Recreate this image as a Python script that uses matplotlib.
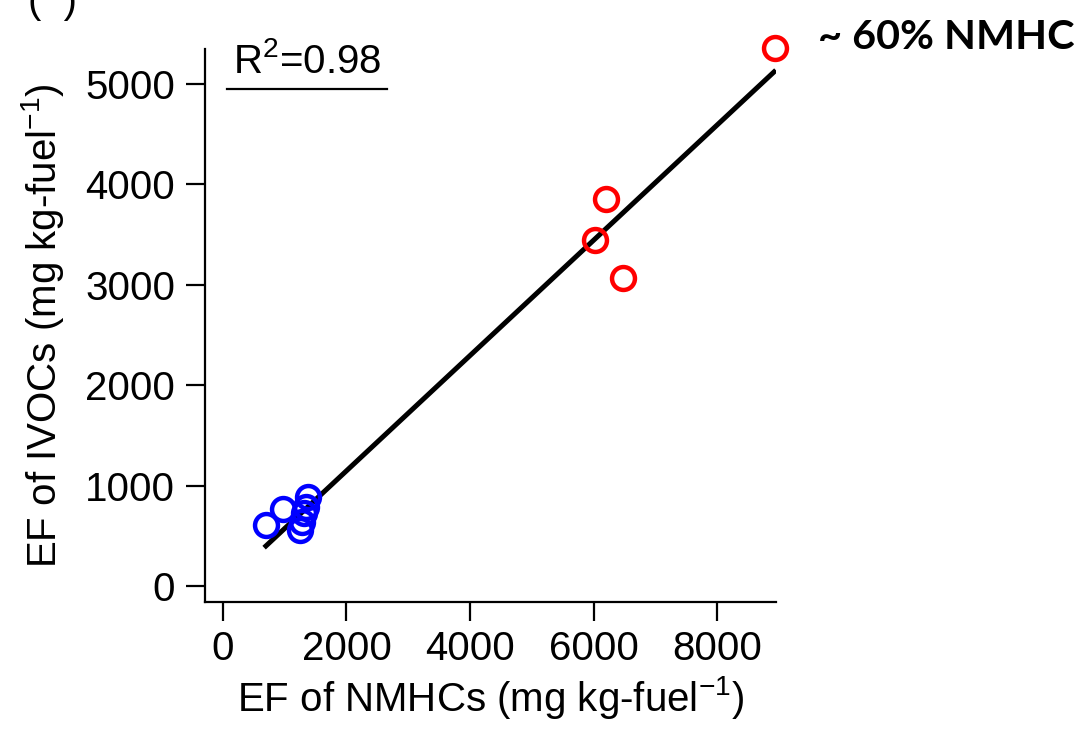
import numpy as np
import matplotlib
matplotlib.use("Agg")
import matplotlib.pyplot as plt
from matplotlib.lines import Line2D

# data (mg kg-fuel^-1)
nmhc_blue = [696, 972, 1247, 1279, 1312, 1377, 1344]
ivoc_blue = [608, 767, 558, 637, 727, 886, 787]
nmhc_red = [8939, 6202, 6024, 6478]
ivoc_red = [5359, 3855, 3446, 3068]

# fitted line (slope ~0.57, i.e. ~60% of NMHC)
fit_slope = 0.574
fit_intercept = -1.5
fit_x = [696, 8923]

xticks = [0, 2000, 4000, 6000, 8000]
yticks = [0, 1000, 2000, 3000, 4000, 5000]

plt.rcParams['font.family'] = ['Liberation Sans', 'DejaVu Sans']

fig = plt.figure(figsize=(10.82, 7.36), dpi=100)
ax = fig.add_axes([0.1895, 0.1821, 0.5277, 0.7514])

fx = np.array(fit_x)
ax.plot(fx, fit_slope * fx + fit_intercept, color='black', lw=3.6, zorder=2)

ax.plot(nmhc_blue, ivoc_blue, 'o', mfc='none', mec=(0, 0, 1), ms=16.5, mew=3.2,
        zorder=3, clip_on=False)
ax.plot(nmhc_red, ivoc_red, 'o', mfc='none', mec=(1, 0, 0), ms=16.5, mew=3.2,
        zorder=3, clip_on=False)

ax.set_xlim(-290, 8955)
ax.set_ylim(-160, 5349)
ax.set_xticks(xticks)
ax.set_yticks(yticks)
ax.spines['top'].set_visible(False)
ax.spines['right'].set_visible(False)
for s in ['left', 'bottom']:
    ax.spines[s].set_linewidth(1.6)
ax.tick_params(direction='out', length=13.5, width=1.6, labelsize=29, pad=7)
ax.tick_params(axis='y', pad=8)

ax.set_xlabel('EF of NMHCs (mg kg-fuel$^{\\mathregular{-1}}$)', fontsize=29, labelpad=4)
ax.set_ylabel('EF of IVOCs (mg kg-fuel$^{\\mathregular{-1}}$)', fontsize=29, labelpad=14)

# R^2 annotation with underline
fig.text(233 / 1082, 1 - 73 / 736, 'R$^{\\mathregular{2}}$=0.98', fontsize=29,
         ha='left', va='baseline')
fig.add_artist(Line2D([227 / 1082, 387 / 1082], [1 - 89 / 736, 1 - 89 / 736],
                      color='black', lw=1.6, transform=fig.transFigure))

fig.text(818 / 1082, 1 - 49 / 736, '~ 60% NMHC', fontsize=29.8, fontweight='bold',
         family=['Lato', 'DejaVu Sans'], ha='left', va='baseline')

# panel label cut off at the top edge
fig.text(53 / 1082, 1 - 13 / 736, '(  )', fontsize=29, ha='center', va='baseline')

fig.savefig('out.png', dpi=100)
